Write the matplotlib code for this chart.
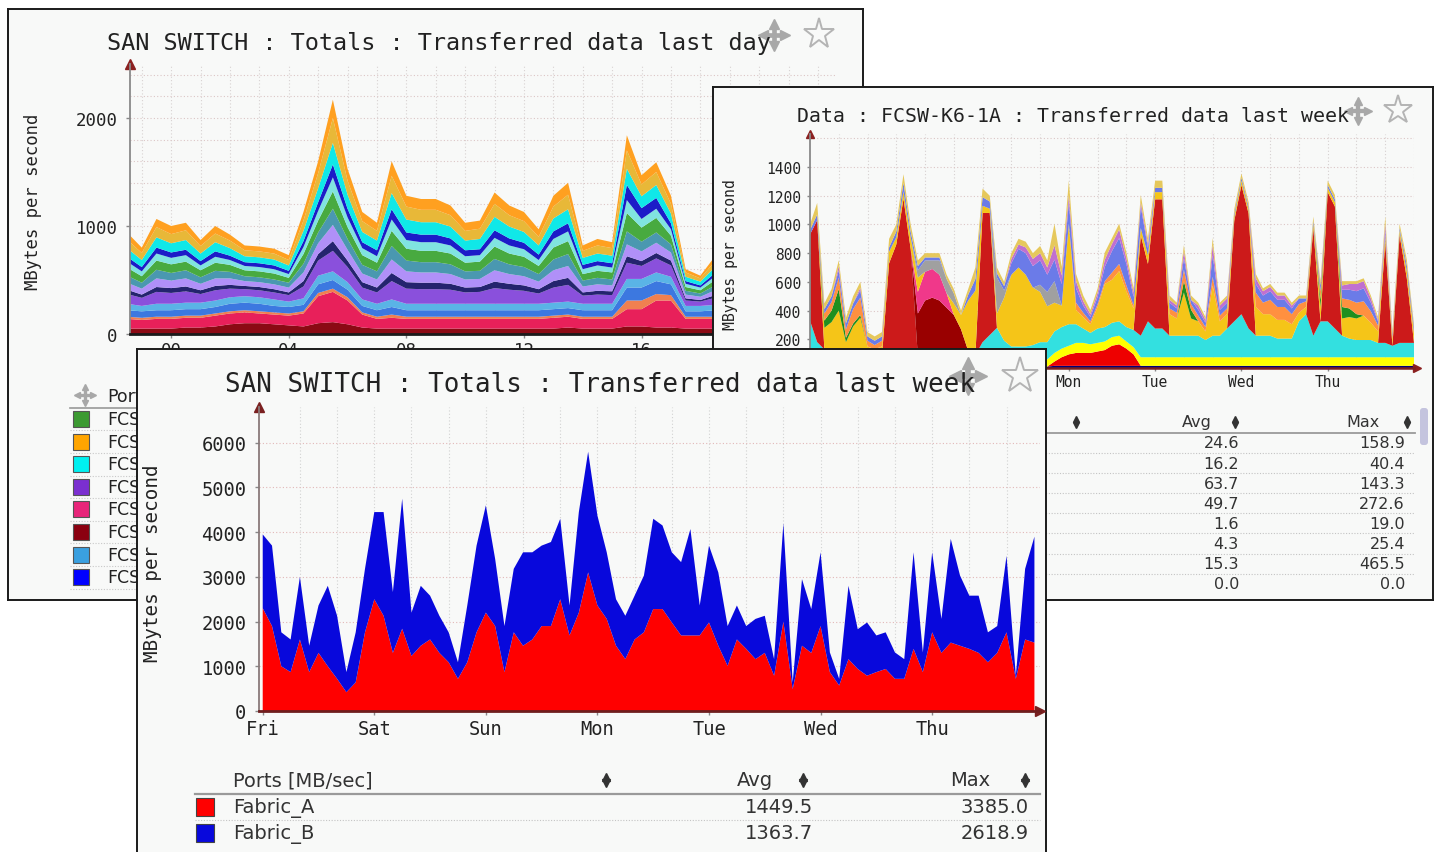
import numpy as np
import matplotlib
matplotlib.use("Agg")
import matplotlib.pyplot as plt
from matplotlib.transforms import Affine2D
from matplotlib.patches import Rectangle, FancyBboxPatch

# ====================== DATA ======================
# ---- Panel A: SAN SWITCH totals, last day (30-min samples, MB/s) ----
day_hours = np.arange(-1.5, 22.51, 0.5)
day_tick_hours = [0, 4, 8, 12, 16, 20]
day_tick_labels = ['00', '04', '08', '12', '16', '20']
day_darkred = [50,50,50,50,60,60,70,90,100,100, 90,80,70,100,110,90,60,50,50,50, 50,50,50,50,50,50,50,50,50,50, 60,50,50,50,70,70,60,60,50,50, 50,50,50,50,50,50,50,50,50]
day_crimson = [90,80,90,90,90,90,100,100,100,90, 90,90,120,250,280,220,120,90,100,90, 90,90,90,90,90,90,90,90,90,100, 100,90,90,90,160,160,250,250,90,90, 90,90,90,90,90,90,90,90,90]
day_salmon = [20,20,20,20,20,20,20,20,20,20, 20,20,20,30,30,30,20,20,30,20, 20,20,20,20,20,20,20,20,20,20, 20,20,20,20,80,80,60,50,20,20, 20,20,20,20,20,20,20,20,20]
day_blue = [60,60,60,60,60,60,60,70,70,70, 60,60,60,80,80,70,60,60,70,60, 60,60,60,60,60,60,60,60,60,60, 60,60,60,60,120,120,120,100,50,50, 60,60,60,60,60,60,60,60,60]
day_lightblue = [60,50,60,60,60,60,60,60,60,60, 60,50,60,80,80,70,60,60,70,60, 60,60,60,60,60,60,60,60,60,60, 60,60,60,60,80,80,80,70,50,50, 50,60,60,60,60,60,60,60,60]
day_purple = [90,75,110,100,105,80,95,80,65,65, 65,60,110,140,190,140,110,105,170,140, 135,135,130,105,110,145,130,120,95,140, 155,75,85,80,150,120,130,105,50,40, 65,65,75,70,75,80,75,65,65]
day_navy = [40,30,45,45,45,35,40,35,30,30, 30,25,50,60,90,60,50,45,75,60, 60,60,55,45,45,60,55,50,40,60, 65,30,35,35,60,45,50,45,20,15, 25,30,30,30,30,35,30,30,25]
day_lavender = [65,55,80,70,75,60,70,60,45,45, 45,45,80,100,150,100,80,75,125,100, 95,95,90,75,75,105,90,85,70,100, 110,55,60,55,110,90,95,75,35,30, 45,50,50,50,55,55,50,50,45]
day_steel = [65,55,80,70,75,60,70,60,45,45, 45,45,80,100,150,100,80,75,125,100, 95,95,90,75,75,105,90,85,70,100, 110,55,60,55,120,90,95,75,35,30, 45,50,50,50,55,55,50,50,45]
day_green = [75,60,85,80,80,65,75,65,55,55, 55,45,90,110,160,110,90,80,140,110, 105,105,100,80,85,115,100,95,75,110, 120,60,65,65,170,130,135,80,35,30, 50,55,55,55,60,65,55,55,50]
day_lightcyan = [55,45,65,60,60,45,55,45,40,40, 40,35,65,90,130,90,65,60,105,80, 80,80,75,60,60,80,75,70,55,80, 90,45,50,45,120,80,85,60,30,25, 35,40,40,40,45,45,40,40,40]
day_blue2 = [45,40,55,50,50,40,50,40,35,35, 35,30,55,80,120,80,55,55,95,70, 70,70,65,55,55,70,65,60,50,70, 75,40,40,40,140,100,100,55,25,20, 30,35,35,35,40,40,35,35,30]
day_cyan = [80,65,95,85,90,70,85,70,55,55, 55,50,95,130,200,130,95,90,150,120, 115,115,110,90,95,125,110,100,85,120, 130,65,70,70,150,110,120,90,40,35, 55,55,65,60,65,70,65,55,55]
day_gold = [80,65,95,85,90,70,80,70,55,55, 55,50,95,140,230,130,100,90,160,120, 115,115,105,90,95,120,105,100,80,110, 135,65,75,70,170,110,120,90,40,30, 55,55,65,60,65,70,65,55,55]
day_orange = [65,50,75,75,70,55,70,55,45,45, 45,45,80,110,170,110,85,75,135,100, 100,100,90,75,75,105,90,85,70,100, 110,50,60,55,140,85,90,75,30,25, 45,45,55,50,50,55,55,45,50]
day_layer_colors = ['#8b0a14', '#e8205a', '#f08050', '#3c78e0', '#5ab4e6',
                    '#8a50dc', '#24246e', '#b090f8', '#4a98b0', '#48aa40',
                    '#80e4e0', '#1c1cc8', '#10e8e8', '#e8b838', '#ffa020']
# legend of the back-left panel: only the first letters are visible in the picture
day_legend_header = 'Ports'
day_legend_names = ['FCS', 'FCS', 'FCS', 'FCS', 'FCS', 'FCS', 'FCS', 'FCS']
day_legend_colors = ['#3c9a32', '#ffa500', '#00f0f0', '#7b2fd0',
                     '#e8257a', '#8b0010', '#3aa0e0', '#0000ff']

# ---- Panel B: FCSW-K6-1A, last week (2-hour samples, MB/s) ----
wb_hours = np.arange(0, 169, 2)
wb_tick_hours = [72, 96, 120, 144]
wb_tick_labels = ['Mon', 'Tue', 'Wed', 'Thu']
wb_navy = [10,10,10,10,10,10,10,10,10,10, 10,10,10,10,10,10,10,10,10,10, 10,10,10,10,10,10,10,10,10,10, 10,10,10,10,15,15,15,15,15,15, 15,15,15,15,15,15,15,15,15,15, 15,15,15,15,15,15,15,15,15,15, 15,15,15,15,15,15,15,15,15,15, 15,15,15,15,15,15,15,15,15,15, 15,15,15,15,15]
wb_redlow = [0,0,0,0,0,0,0,0,0,0, 0,0,0,0,0,0,0,0,0,0, 0,0,0,0,0,0,0,0,0,0, 0,0,0,0,30,60,80,90,90,90, 100,110,140,150,120,80,0,0,0,0, 0,0,0,0,0,0,0,0,0,0, 0,0,0,0,0,0,0,0,0,0, 0,0,0,0,0,0,0,0,0,0, 0,0,0,0,0]
wb_yellow = [20,20,20,30,30,20,30,30,20,20, 20,20,20,20,20,20,20,20,20,20, 20,20,20,20,20,20,20,30,40,40, 40,50,50,50,60,60,60,70,70,60, 60,60,60,60,50,50,60,60,60,60, 60,60,60,60,60,60,60,60,60,60, 60,60,60,60,60,60,60,60,60,60, 60,60,60,60,60,60,60,60,60,60, 60,60,60,60,60]
wb_cyan = [300,150,100,80,60,50,50,60,40,40, 50,50,50,50,50,50,40,40,40,40, 40,40,40,60,150,200,250,150,100,100, 100,100,120,120,150,150,150,130,100,80, 100,100,100,100,100,120,150,250,200,200, 150,150,150,150,150,120,150,150,200,250, 300,200,150,150,150,130,130,130,250,300, 150,250,250,200,150,130,120,120,120,100, 100,80,100,100,100]
wb_redspike = [600,850,0,0,0,0,0,0,0,0, 0,650,780,1100,750,0,0,0,0,0, 0,0,0,0,900,850,0,0,0,0, 0,0,0,0,0,0,0,0,0,0, 0,0,0,0,0,0,700,400,900,900, 0,0,0,0,0,0,0,0,0,700, 900,800,0,0,0,0,0,0,0,0, 750,0,900,850,0,0,0,0,0,0, 700,0,750,450,0]
wb_darkred = [0,0,0,0,0,0,0,0,0,0, 0,0,0,0,0,300,400,420,400,350, 300,200,50,0,0,0,0,0,0,0, 0,0,0,0,0,0,0,0,0,0, 0,0,0,0,0,0,0,0,0,0, 0,0,0,0,0,0,0,0,0,0, 0,0,0,0,0,0,0,0,0,0, 0,0,0,0,0,0,0,0,0,0, 0,0,0,0,0]
wb_pink = [0,0,0,0,0,0,0,0,0,0, 0,0,0,0,0,150,200,200,180,100, 0,0,0,0,0,0,0,0,0,0, 0,0,0,0,0,0,0,0,0,0, 0,0,0,0,0,0,0,0,0,0, 0,0,0,0,0,0,0,0,0,0, 0,0,0,0,0,0,0,0,0,0, 0,0,0,0,0,0,0,0,0,0, 0,0,0,0,0]
wb_gold = [0,0,150,200,300,100,200,250,80,60, 70,80,50,50,80,100,0,0,0,0, 80,100,350,450,50,30,100,300,500,550, 500,400,350,250,200,150,700,100,80,60, 150,300,300,350,250,150,50,60,50,50, 150,120,300,120,100,60,350,100,100,30, 30,30,200,150,150,130,130,100,60,50, 30,100,30,30,120,150,150,170,120,80, 50,40,30,50,60]
wb_grey = [0,0,0,0,0,0,0,0,0,0, 0,0,0,0,0,50,80,60,100,100, 70,0,0,0,0,0,250,50,0,0, 0,0,50,100,150,0,0,0,0,0, 0,0,0,0,0,0,0,0,0,0, 0,0,0,0,0,0,0,0,0,0, 0,0,0,0,0,0,0,0,0,0, 0,0,0,0,0,0,0,0,0,0, 0,0,0,0,0]
wb_green = [0,0,50,80,150,30,20,20,0,0, 0,0,0,0,0,0,0,0,0,0, 0,0,0,0,0,0,0,0,0,0, 0,0,0,0,0,0,0,0,0,0, 0,0,0,0,0,0,0,0,0,0, 0,0,80,60,0,0,0,0,0,0, 0,0,0,0,0,0,0,0,0,0, 0,50,0,0,80,60,30,0,0,0, 0,0,0,0,0]
wb_orange = [0,0,50,60,80,60,100,120,40,30, 40,0,0,0,0,0,0,0,0,0, 0,0,0,0,0,0,0,0,0,0, 0,0,0,0,0,0,0,50,30,20, 20,20,50,50,40,20,0,0,0,0, 40,40,80,40,40,30,60,40,40,0, 0,0,100,80,100,90,90,70,60,40, 0,60,0,0,60,60,80,100,80,40, 0,20,0,0,20]
wb_blue = [30,40,30,40,50,40,40,50,30,30, 30,30,40,60,40,30,20,20,20,0, 0,0,40,80,60,50,30,30,80,130, 150,150,170,120,150,150,150,100,50,30, 50,100,150,180,150,60,150,50,30,30, 40,30,80,30,40,30,150,40,40,20, 20,20,60,50,60,50,50,40,40,20, 20,40,20,20,60,70,80,90,60,30, 30,20,20,40,30]
wb_orchid = [0,0,0,0,30,0,0,20,0,0, 0,0,0,0,0,0,0,0,0,0, 0,0,0,0,0,0,0,0,30,30, 40,50,50,50,100,60,50,50,30,20, 30,50,50,60,40,30,30,30,0,0, 20,20,50,0,30,20,70,30,30,0, 0,0,40,30,30,30,30,20,0,0, 0,0,0,0,30,40,50,50,30,10, 50,0,0,0,0]
wb_top = [40,80,40,50,40,40,50,40,30,30, 30,60,50,60,50,40,30,30,30,30, 30,30,40,80,60,40,40,30,40,40, 40,40,50,50,150,60,100,50,40,30, 30,50,40,40,40,30,50,40,50,50, 30,20,40,30,20,20,50,20,20,30, 30,30,30,20,20,20,20,20,20,20, 30,30,30,30,30,20,20,20,20,20, 50,20,30,40,20]
wb_layer_colors = ['#00007a', '#ee0000', '#ffff00', '#33e0e0', '#cc1a1a',
                   '#990000', '#f0388a', '#f5c518', '#a0a0a0', '#1f8f1f',
                   '#ff9040', '#6b7be8', '#c070d0', '#e6c85c']
wb_avg = [24.6, 16.2, 63.7, 49.7, 1.6, 4.3, 15.3, 0.0]
wb_max = [158.9, 40.4, 143.3, 272.6, 19.0, 25.4, 465.5, 0.0]

# ---- Panel C: SAN SWITCH totals, last week (2-hour samples, MB/s) ----
week_hours = np.arange(0, 167, 2)
week_days = ['Fri', 'Sat', 'Sun', 'Mon', 'Tue', 'Wed', 'Thu']
fabric_a = [2300,1900,1000,870,1600,870,1300,1000,720,420, 640,1760,2500,2130,1300,1840,1230,1460,1600,1300, 1090,720,1090,1760,2200,1900,870,1760,1460,1600, 1900,1900,2500,1690,2200,3100,2360,2060,1460,1160, 1600,1760,2280,2280,1980,1690,1690,1690,1980,1460, 1010,1600,1390,1160,1300,790,2000,490,1460,1300, 1900,870,570,1160,940,790,870,940,720,720, 1390,870,1760,1300,1530,1460,1390,1300,1090,1300, 1760,720,1600,1530]
fabric_b = [1650,1800,760,730,1400,590,1060,1800,1410,450, 1120,1420,1950,2320,1360,2910,970,1340,980,830, 670,370,1270,1940,2400,1500,1030,1420,2090,1950, 1800,1880,1800,670,2250,2700,2010,1490,1040,970, 980,1270,2020,1870,1570,1640,2380,670,1720,1640, 890,760,510,900,830,370,2200,150,1490,980, 1650,440,150,1640,890,1190,820,820,590,440, 2160,440,1790,760,2320,1570,1190,1280,670,600, 1710,70,1580,2370]
fabric_names = ['Fabric_A', 'Fabric_B']
fabric_colors = ['#ff0000', '#0808dc']
fabric_avg = [1449.5, 1363.7]
fabric_max = [3385.0, 2618.9]

title_day = 'SAN SWITCH : Totals : Transferred data last day'
title_port = 'Data : FCSW-K6-1A : Transferred data last week'
title_week = 'SAN SWITCH : Totals : Transferred data last week'
ylabel = 'MBytes per second'

# ====================== DRAWING ======================
W, H = 1439, 853
MONO = 'DejaVu Sans Mono'
SANS = 'DejaVu Sans'
plt.rcParams['font.family'] = [MONO, 'DejaVu Sans']
fig = plt.figure(figsize=(W / 100, H / 100), dpi=100)
fig.patch.set_facecolor('white')
PX = Affine2D().scale(1.0 / W, -1.0 / H).translate(0, 1) + fig.transFigure
BG = '#f8f9f8'
INK = '#222222'


def rect_of(x0, y0, x1, y1):
    return [x0 / W, 1 - y1 / H, (x1 - x0) / W, (y1 - y0) / H]


def make_frame(x0, y0, x1, y1, z):
    ax = fig.add_axes(rect_of(x0, y0, x1, y1), zorder=z)
    ax.set_facecolor(BG)
    ax.set_xticks([])
    ax.set_yticks([])
    for s in ax.spines.values():
        s.set_color('#1a1a1a')
        s.set_linewidth(1.4)
    return ax


def make_plot(x0, y0, x1, y1, z):
    ax = fig.add_axes(rect_of(x0, y0, x1, y1), zorder=z)
    ax.set_facecolor('none')
    ax.spines['top'].set_visible(False)
    ax.spines['right'].set_visible(False)
    return ax


def txt(ax, x, y, s, **kw):
    kw.setdefault('color', INK)
    return ax.text(x, y, s, transform=PX, **kw)


def hline(ax, x0, x1, y, **kw):
    ax.plot([x0, x1], [y, y], transform=PX, clip_on=False, **kw)


def move_icon(ax, cx, cy, size, color='#a8a8a8'):
    h = size / 2.0
    lw = size * 0.12
    ax.plot([cx - h * 0.75, cx + h * 0.75], [cy, cy], color=color, lw=lw,
            transform=PX, clip_on=False, solid_capstyle='butt')
    ax.plot([cx, cx], [cy - h * 0.75, cy + h * 0.75], color=color, lw=lw,
            transform=PX, clip_on=False, solid_capstyle='butt')
    ms = size * 0.24
    d = h * 0.78
    for dx, dy, m in [(0, -d, '^'), (0, d, 'v'), (-d, 0, '<'), (d, 0, '>')]:
        ax.plot([cx + dx], [cy + dy], marker=m, ms=ms, color=color, mec=color,
                transform=PX, clip_on=False, ls='none')


def star_icon(ax, cx, cy, size, color='#b4b4b4'):
    ax.plot([cx], [cy], marker='*', ms=size * 0.8, mfc='none', mec=color, mew=1.4,
            transform=PX, clip_on=False, ls='none')


def sort_icon(ax, x, y, s=5, color='#333333'):
    ax.plot([x], [y - 3.2], marker='^', ms=s, color=color, transform=PX, clip_on=False, ls='none')
    ax.plot([x], [y + 3.2], marker='v', ms=s, color=color, transform=PX, clip_on=False, ls='none')


def grid(ax, xs, ys, xcol, ycol):
    for x in xs:
        ax.axvline(x, color=xcol, lw=0.8, ls=(0, (1, 2)), zorder=0)
    for y in ys:
        ax.axhline(y, color=ycol, lw=0.8, ls=(0, (1, 2)), zorder=0)


def axis_style(ax, lsize, left_col, bottom_col, bottom_lw, ypad, xpad, tlen):
    ax.spines['left'].set_color(left_col)
    ax.spines['left'].set_linewidth(1.3)
    ax.spines['bottom'].set_color(bottom_col)
    ax.spines['bottom'].set_linewidth(bottom_lw)
    ax.tick_params(axis='both', labelsize=lsize, labelcolor=INK, color='#888888',
                   length=tlen, width=1)
    ax.tick_params(axis='y', pad=ypad)
    ax.tick_params(axis='x', pad=xpad)


# ---------------- Panel A (back left) ----------------
frameA = make_frame(8, 10, 863, 601, 1)
axA = make_plot(130, 65, 835.6, 335, 1.5)
grid(axA, np.arange(-1, 23, 1), np.arange(200, 2500, 200), '#d8d2d2', '#dcc6c6')
axA.stackplot(day_hours, day_darkred, day_crimson, day_salmon, day_blue, day_lightblue,
              day_purple, day_navy, day_lavender, day_steel, day_green, day_lightcyan,
              day_blue2, day_cyan, day_gold, day_orange,
              colors=day_layer_colors, lw=0)
axA.set_xlim(-1.4, 22.6)
axA.set_ylim(0, 2500)
axA.set_xticks(day_tick_hours)
axA.set_xticklabels(day_tick_labels)
axA.set_yticks([0, 1000, 2000])
axis_style(axA, 12.5, '#8a8a8a', '#1a1a1a', 2.0, 6, 2, 3)
axA.plot([0], [1], marker='^', ms=7, color='#8b2020', transform=axA.transAxes, clip_on=False)
txt(frameA, 107, 50, title_day, fontsize=16.9, ha='left', va='baseline')
move_icon(frameA, 774, 36, 28)
star_icon(frameA, 819, 35, 28)
txt(frameA, 33, 202, ylabel, rotation=90, ha='center', va='center', fontsize=12.4)
# legend (mostly hidden behind the front panel)
move_icon(frameA, 85, 396, 20)
txt(frameA, 107, 397, day_legend_header, family=SANS, fontsize=12.5, ha='left', va='center')
hline(frameA, 70, 140, 409, color='#999999', lw=1.2)
for i, (name, col) in enumerate(zip(day_legend_names, day_legend_colors)):
    yc = 420 + i * 22.6
    frameA.add_patch(Rectangle((73, yc - 8), 16, 16, transform=PX, fc=col, ec='#555555',
                               lw=0.8, clip_on=False))
    txt(frameA, 107, yc, name, family=SANS, fontsize=12.5, ha='left', va='center')
    hline(frameA, 70, 140, yc + 11.3, color='#c8c8c8', lw=0.8, ls=(0, (1, 1.5)))

# ---------------- Panel B (back right) ----------------
frameB = make_frame(713, 88, 1433, 601, 2)
axB = make_plot(810, 135, 1414, 369, 2.5)
grid(axB, np.arange(8, 169, 8), np.arange(200, 1601, 200), '#d6d0d0', '#dcc6c6')
axB.stackplot(wb_hours, wb_navy, wb_redlow, wb_yellow, wb_cyan, wb_redspike, wb_darkred,
              wb_pink, wb_gold, wb_grey, wb_green, wb_orange, wb_blue, wb_orchid, wb_top,
              colors=wb_layer_colors, lw=0)
axB.set_xlim(0, 168)
axB.set_ylim(0, 1630)
axB.set_xticks(wb_tick_hours)
axB.set_xticklabels(wb_tick_labels)
axB.set_yticks(np.arange(200, 1401, 200))
axis_style(axB, 10.5, '#8a8a8a', '#7a1f1f', 1.8, 4, 2, 2.5)
axB.plot([0], [1], marker='^', ms=6, color='#8b2020', transform=axB.transAxes, clip_on=False)
axB.plot([1.005], [0], marker='>', ms=6, color='#8b2020', transform=axB.transAxes, clip_on=False)
txt(frameB, 797, 122, title_port, fontsize=14.3, ha='left', va='baseline')
move_icon(frameB, 1358, 112, 26)
star_icon(frameB, 1398, 111, 27)
txt(frameB, 730, 255, ylabel, rotation=90, ha='center', va='center', fontsize=10.6)
# table
sort_icon(frameB, 1076, 423)
txt(frameB, 1197, 423, 'Avg', family=SANS, fontsize=11.5, ha='center', va='center', color='#333333')
sort_icon(frameB, 1235, 423)
txt(frameB, 1363, 423, 'Max', family=SANS, fontsize=11.5, ha='center', va='center', color='#333333')
sort_icon(frameB, 1407, 423)
hline(frameB, 1040, 1415, 434, color='#9a9a9a', lw=1.3)
for i, (a, m) in enumerate(zip(wb_avg, wb_max)):
    yc = 444 + i * 20.1
    txt(frameB, 1239, yc, f'{a:.1f}', family=SANS, fontsize=11.5, ha='right', va='center', color='#333333')
    txt(frameB, 1405, yc, f'{m:.1f}', family=SANS, fontsize=11.5, ha='right', va='center', color='#333333')
    if i < len(wb_avg) - 1:
        hline(frameB, 1040, 1415, yc + 10, color='#c4c4c4', lw=0.8, ls=(0, (1, 1.5)))
frameB.add_patch(FancyBboxPatch((1420, 409), 8, 37, boxstyle='round,pad=0,rounding_size=3',
                                transform=PX, fc='#c4c4de', ec='none', clip_on=False))

# ---------------- Panel C (front) ----------------
frameC = make_frame(137, 350, 1046, 860, 3)
axC = make_plot(259, 408, 1040, 712, 3.5)
grid(axC, np.arange(8, 168, 8), np.arange(1000, 6001, 1000), '#d2d2d2', '#e2b8b8')
axC.stackplot(week_hours, fabric_a, fabric_b, colors=fabric_colors, lw=0)
axC.set_xlim(-0.8, 167.2)
axC.set_ylim(0, 6800)
axC.set_xticks(np.arange(0, 168, 24))
axC.set_xticklabels(week_days)
axC.set_yticks(np.arange(0, 6001, 1000))
axis_style(axC, 13.5, '#8a7a7a', '#6e1e1e', 2.0, 6, 3, 3)
axC.plot([0], [1], marker='^', ms=7, color='#7a2020', transform=axC.transAxes, clip_on=False)
axC.plot([1.0], [0], marker='>', ms=7, color='#7a2020', transform=axC.transAxes, clip_on=False)
txt(frameC, 225, 392, title_week, fontsize=18.6, ha='left', va='baseline')
move_icon(frameC, 968, 377, 34)
star_icon(frameC, 1020, 377, 34)
txt(frameC, 152, 563, ylabel, rotation=90, ha='center', va='center', fontsize=13.9)
# table
txt(frameC, 233, 781, 'Ports [MB/sec]', family=SANS, fontsize=14, ha='left', va='center', color='#333333')
sort_icon(frameC, 606, 781, s=6)
txt(frameC, 755, 781, 'Avg', family=SANS, fontsize=14, ha='center', va='center', color='#333333')
sort_icon(frameC, 803, 781, s=6)
txt(frameC, 970, 781, 'Max', family=SANS, fontsize=14, ha='center', va='center', color='#333333')
sort_icon(frameC, 1025, 781, s=6)
hline(frameC, 195, 1040, 795, color='#9a9a9a', lw=1.6)
for i, (name, col, a, m) in enumerate(zip(fabric_names, fabric_colors, fabric_avg, fabric_max)):
    yc = 808 + i * 26
    frameC.add_patch(Rectangle((196, yc - 9), 18, 18, transform=PX, fc=col, ec='#444444',
                               lw=0.8, clip_on=False))
    txt(frameC, 233, yc, name, family=SANS, fontsize=14, ha='left', va='center', color='#333333')
    txt(frameC, 813, yc, f'{a:.1f}', family=SANS, fontsize=14, ha='right', va='center', color='#333333')
    txt(frameC, 1029, yc, f'{m:.1f}', family=SANS, fontsize=14, ha='right', va='center', color='#333333')
    if i == 0:
        hline(frameC, 195, 1040, yc + 13, color='#c4c4c4', lw=0.8, ls=(0, (1, 1.5)))

fig.savefig('out.png', dpi=100, facecolor='white')
